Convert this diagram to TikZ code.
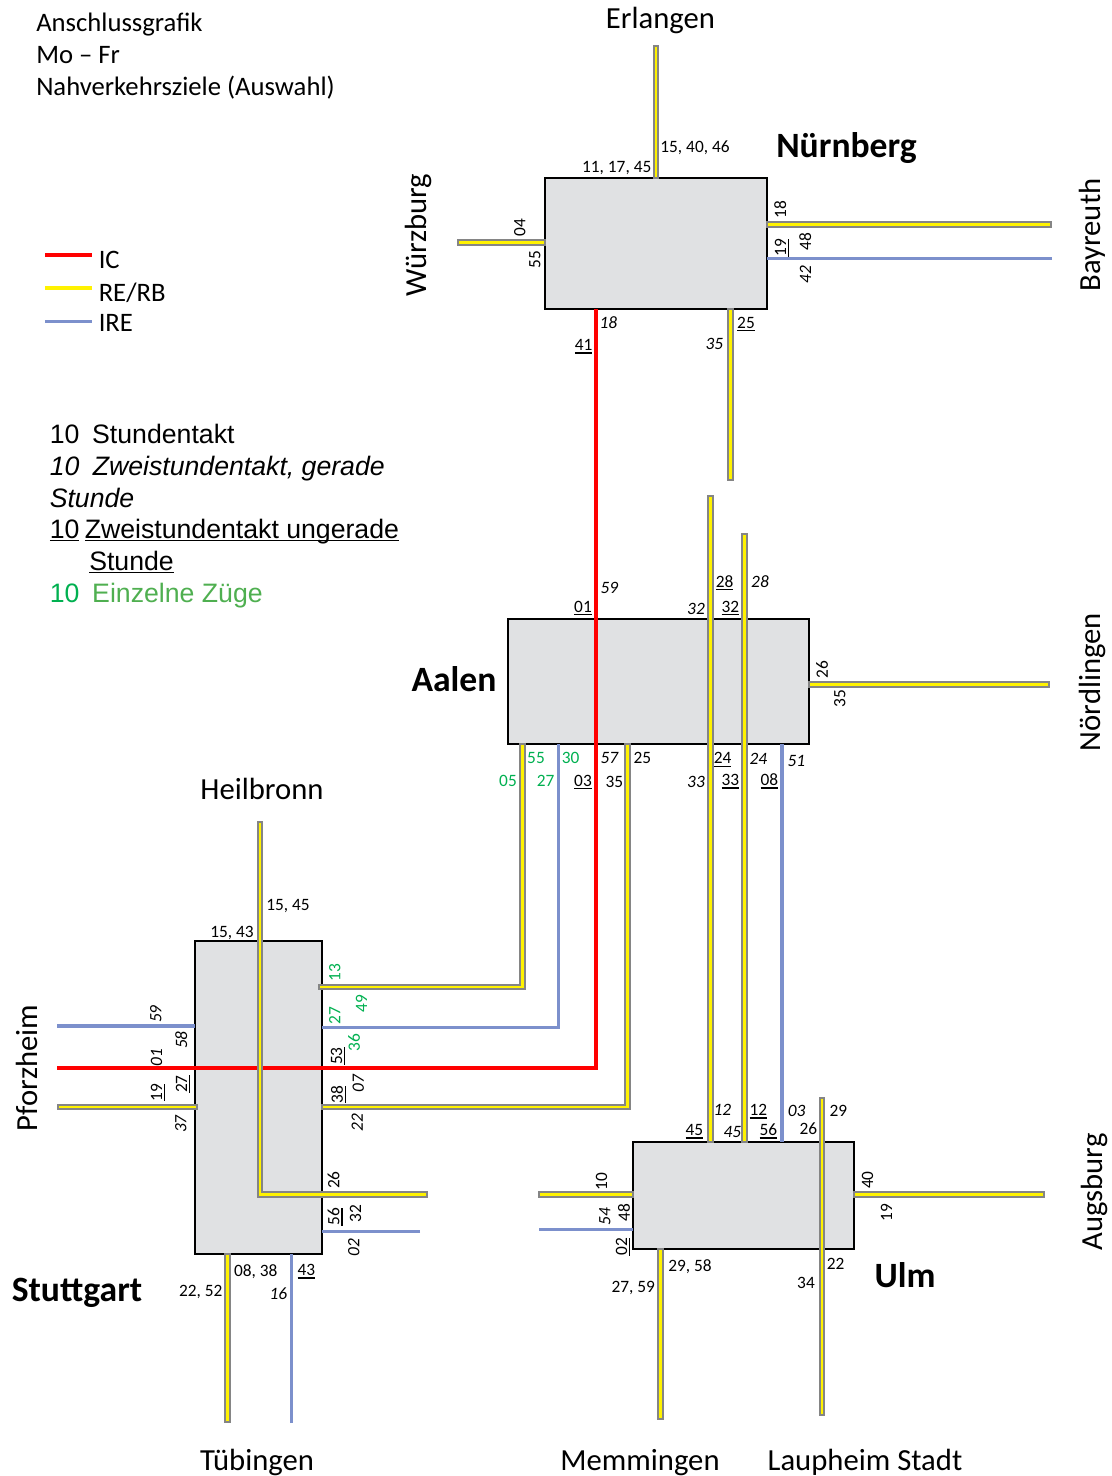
\documentclass[tikz,border=0pt]{standalone}
\usepackage{fontspec}
\usepackage{tikz}
\setmainfont{Carlito}
\newfontfamily\legendfont{Liberation Sans}
\definecolor{railgray}{HTML}{858585}
\definecolor{irecolor}{HTML}{7C90CC}
\definecolor{boxfill}{HTML}{E0E1E3}
\definecolor{singlegreen}{HTML}{00B050}
\definecolor{singletext}{HTML}{4FAF50}
\newcommand{\unum}[1]{\leavevmode\vtop{\hbox{\smash{#1}}\kern1.5pt\hrule height 0.9pt}}
\tikzset{
  station/.style={draw=black, fill=boxfill, line width=1.6pt, inner sep=0pt, outer sep=0pt},
  rerb/.style={draw=railgray, double=yellow, line width=1.5pt, double distance=1.9pt, line cap=rect},
  tobox/.style={shorten >=1.8pt},
  frombox/.style={shorten <=1.8pt},
  ireline/.style={draw=irecolor, line width=2.6pt},
  icline/.style={draw=red, line width=3pt},
  num/.style={inner sep=0pt, font=\fontsize{13}{15}\selectfont, text height=8.2pt, text depth=0pt},
  numit/.style={num, font=\fontsize{13}{15}\selectfont\itshape},
  vert/.style={rotate=90},
  single/.style={text=singlegreen},
  place/.style={inner sep=0pt, font=\fontsize{23}{27}\selectfont, text height=19.2pt, text depth=4.4pt},
  city/.style={inner sep=0pt, font=\fontsize{26.7}{30}\selectfont\bfseries, text height=22pt, text depth=5pt},
  header/.style={inner sep=0pt, anchor=base west, font=\fontsize{20}{24}\selectfont},
  legend/.style={inner sep=0pt, anchor=base west, font=\fontsize{20}{24}\selectfont\legendfont},
}

\begin{document}
\begin{tikzpicture}[x=0.75pt, y=-0.75pt]
        \useasboundingbox (0,0) rectangle (1112,1476);

        % Station boxes
        \node[station, minimum width=166pt, minimum height=98.7pt] (nuernberg) at (656, 243.5) {};
        \node[station, minimum width=225.5pt, minimum height=93.75pt] (aalen) at (658.35, 681.5) {};
        \node[station, minimum width=95pt, minimum height=234.75pt] (stuttgart) at (258.35, 1097.5) {};
        \node[station, minimum width=165.75pt, minimum height=80pt] (ulm) at (743.8, 1195.65) {};

        % Free ends of the lines
        \coordinate (erlangen_end) at (656, 48);
        \coordinate (wuerzburg_end) at (460, 242.7);
        \coordinate (bayreuth_re) at (1049, 224.3);
        \coordinate (bayreuth_ire) at (1052, 258.7);
        \coordinate (nb_south_end) at (730.7, 478);
        \coordinate (aalen_north_a) at (710.4, 498);
        \coordinate (aalen_north_b) at (744.3, 536);
        \coordinate (noerdlingen_end) at (1047, 684.3);
        \coordinate (heilbronn_end) at (260, 824);
        \coordinate (heilbronn_corner) at (260, 1194.3);
        \coordinate (st_east_end) at (425, 1194.3);
        \coordinate (st_east_ire) at (420, 1231.7);
        \coordinate (pforzheim_ire) at (57, 1026);
        \coordinate (pforzheim_ic) at (57, 1067.7);
        \coordinate (pforzheim_re) at (60, 1107);
        \coordinate (tuebingen_re) at (227.3, 1420);
        \coordinate (tuebingen_ire) at (291.7, 1423);
        \coordinate (ulm_top) at (822, 1100);
        \coordinate (laupheim_end) at (822, 1413);
        \coordinate (ulm_west_re) at (541, 1194.3);
        \coordinate (ulm_west_ire) at (539, 1229.3);
        \coordinate (augsburg_end) at (1042, 1194.3);
        \coordinate (memmingen_end) at (660.3, 1417);

        % Corners of the lines between Aalen and Stuttgart
        \coordinate (corner_a) at (522.7, 987);
        \coordinate (corner_b) at (558.3, 1027.7);
        \coordinate (corner_c) at (627.7, 1107);
        \coordinate (corner_ic) at (596, 1067.7);
        \coordinate (aalen_ulm) at (782, 900);

        % Lines at Nuernberg
        \draw[rerb, tobox] (erlangen_end) -- (erlangen_end |- nuernberg.north);
        \draw[rerb, tobox] (wuerzburg_end) -- (wuerzburg_end -| nuernberg.west);
        \draw[rerb, tobox] (bayreuth_re) -- (bayreuth_re -| nuernberg.east);
        \draw[ireline] (bayreuth_ire) -- (bayreuth_ire -| nuernberg.east);
        \draw[rerb, tobox] (nb_south_end) -- (nb_south_end |- nuernberg.south);

        % Lines at Aalen
        \draw[icline] (corner_ic |- nuernberg.south) -- (corner_ic) -- (pforzheim_ic);
        \draw[rerb, tobox] (aalen_north_a) -- (aalen_north_a |- ulm.north);
        \draw[rerb, tobox] (aalen_north_b) -- (aalen_north_b |- ulm.north);
        \draw[rerb, tobox] (noerdlingen_end) -- (noerdlingen_end -| aalen.east);
        \draw[rerb, frombox] (corner_a |- aalen.south) -- (corner_a) -- (corner_a -| stuttgart.east);
        \draw[ireline] (corner_b |- aalen.south) -- (corner_b) -- (corner_b -| stuttgart.east);
        \draw[rerb, frombox, tobox] (corner_c |- aalen.south) -- (corner_c) -- (corner_c -| stuttgart.east);
        \draw[ireline] (aalen_ulm |- aalen.south) -- (aalen_ulm |- ulm.north);

        % Lines at Stuttgart
        \draw[rerb] (heilbronn_end) -- (heilbronn_corner) -- (st_east_end);
        \draw[ireline] (st_east_ire) -- (st_east_ire -| stuttgart.east);
        \draw[ireline] (pforzheim_ire) -- (pforzheim_ire -| stuttgart.west);
        \draw[rerb] (pforzheim_re) -- (pforzheim_re -| stuttgart.west);
        \draw[rerb, tobox] (tuebingen_re) -- (tuebingen_re |- stuttgart.south);
        \draw[ireline] (tuebingen_ire) -- (tuebingen_ire |- stuttgart.south);

        % Lines at Ulm
        \draw[rerb] (ulm_top) -- (laupheim_end);
        \draw[rerb, tobox] (ulm_west_re) -- (ulm_west_re -| ulm.west);
        \draw[ireline] (ulm_west_ire) -- (ulm_west_ire -| ulm.west);
        \draw[rerb, tobox] (augsburg_end) -- (augsburg_end -| ulm.east);
        \draw[rerb, tobox] (memmingen_end) -- (memmingen_end |- ulm.south);

        % Header
        \node[header] (head_a) at (36, 32) {Anschlussgrafik};
        \node[header] (head_b) at (36, 64) {Mo -- Fr};
        \node[header] (head_c) at (36, 96) {Nahverkehrsziele (Auswahl)};

        % Line legend
        \coordinate (key_ic_a) at (45, 255);
        \coordinate (key_ic_b) at (92, 255);
        \coordinate (key_re_a) at (45, 288);
        \coordinate (key_re_b) at (92, 288);
        \coordinate (key_ire_a) at (45, 321.3);
        \coordinate (key_ire_b) at (92, 321.3);
        \draw[icline] (key_ic_a) -- (key_ic_b);
        \draw[draw=yellow, line width=2.6pt] (key_re_a) -- (key_re_b);
        \draw[ireline] (key_ire_a) -- (key_ire_b);
        \node[header] (key_ic) at (98.5, 268.5) {IC};
        \node[header] (key_re) at (98.5, 301) {RE/RB};
        \node[header] (key_ire) at (98.5, 331.5) {IRE};

        % Timing legend
        \node[legend] (tact_a) at (49.5, 443) {10\hspace{0.48em}Stundentakt};
        \node[legend] (tact_b) at (49.5, 475) {\itshape 10\hspace{0.5em}Zweistundentakt, gerade};
        \node[legend] (tact_c) at (49.5, 507) {\itshape Stunde};
        \node[legend] (tact_d) at (49.5, 538) {\unum{10}\hspace{0.2em}\unum{Zweistundentakt ungerade}};
        \node[legend] (tact_e) at (89, 570) {\unum{Stunde}};
        \node[legend, text=singletext] (tact_f) at (49.5, 602) {\textcolor{singlegreen}{10}\hspace{0.48em}Einzelne Züge};

        % Place names
        \node[place] (erlangen) at (660.5, 19) {Erlangen};
        \node[place, vert] (wuerzburg) at (417, 235) {Würzburg};
        \node[place, vert] (bayreuth) at (1091, 235) {Bayreuth};
        \node[place, vert] (noerdlingen) at (1091, 682) {Nördlingen};
        \node[place] (heilbronn) at (262, 790) {Heilbronn};
        \node[place, vert] (pforzheim) at (28, 1068) {Pforzheim};
        \node[place, vert] (augsburg) at (1093, 1192) {Augsburg};
        \node[place] (tuebingen) at (257, 1461) {Tübingen};
        \node[place] (memmingen) at (640, 1461) {Memmingen};
        \node[place] (laupheim) at (865, 1461) {Laupheim Stadt};
        \node[city] (nb_name) at (846.5, 146) {Nürnberg};
        \node[city] (aa_name) at (454, 680) {Aalen};
        \node[city] (st_name) at (77, 1290) {Stuttgart};
        \node[city] (ul_name) at (905, 1276) {Ulm};

        % Times at Nuernberg
        \node[num] (nb_a) at (695, 147) {15, 40, 46};
        \node[num] (nb_b) at (616.7, 167) {11, 17, 45};
        \node[num, vert] (nb_c) at (520, 227.7) {04};
        \node[num, vert] (nb_d) at (535, 260) {55};
        \node[num, vert] (nb_e) at (780.7, 209.3) {18};
        \node[num, vert] (nb_f) at (780.7, 248) {\unum{19}};
        \node[num, vert] (nb_g) at (805.7, 242) {48};
        \node[numit, vert] (nb_h) at (805.7, 274.3) {42};
        \node[numit] (nb_i) at (608.3, 323) {18};
        \node[num] (nb_j) at (583.7, 345) {\unum{41}};
        \node[numit] (nb_k) at (714.3, 344) {35};
        \node[num] (nb_l) at (746, 322.8) {\unum{25}};

        % Times at Aalen
        \node[numit] (aa_a) at (609.3, 588) {59};
        \node[num] (aa_b) at (583, 606.7) {\unum{01}};
        \node[numit] (aa_c) at (696, 609) {32};
        \node[num] (aa_d) at (730.3, 606.7) {\unum{32}};
        \node[num] (aa_e) at (724.7, 581.7) {\unum{28}};
        \node[numit] (aa_f) at (760, 581.7) {28};
        \node[num, vert] (aa_g) at (822.3, 669.3) {26};
        \node[num, vert] (aa_h) at (840, 698.3) {35};
        \node[num, single] (aa_i) at (536, 757.7) {55};
        \node[num, single] (aa_j) at (570.7, 757.7) {30};
        \node[numit] (aa_k) at (609.3, 757.7) {57};
        \node[num] (aa_l) at (642.3, 757.7) {25};
        \node[num, single] (aa_m) at (508, 780.7) {05};
        \node[num, single] (aa_n) at (545.7, 780.7) {27};
        \node[num] (aa_o) at (583, 780.7) {\unum{03}};
        \node[num] (aa_p) at (614.3, 781.7) {35};
        \node[num] (aa_q) at (722.7, 758.3) {\unum{24}};
        \node[numit] (aa_r) at (758.3, 759) {24};
        \node[numit] (aa_s) at (796.3, 760.7) {51};
        \node[numit] (aa_t) at (696, 782.3) {33};
        \node[num] (aa_u) at (730.3, 780) {\unum{33}};
        \node[num] (aa_v) at (769.3, 780) {\unum{08}};

        % Times at Stuttgart
        \node[num] (st_a) at (288, 905) {15, 45};
        \node[num] (st_b) at (232, 932) {15, 43};
        \node[num, vert, single] (st_c) at (335, 972.7) {13};
        \node[num, vert, single] (st_d) at (361.7, 1003.3) {49};
        \node[num, vert, single] (st_e) at (335, 1015.7) {27};
        \node[num, vert, single] (st_f) at (354.3, 1042.7) {36};
        \node[num, vert] (st_g) at (336.7, 1056) {\unum{53}};
        \node[numit, vert] (st_h) at (358.3, 1083.3) {07};
        \node[num, vert] (st_i) at (337.3, 1094.3) {\unum{38}};
        \node[numit, vert] (st_j) at (357.3, 1122.3) {22};
        \node[num, vert] (st_k) at (334, 1180) {26};
        \node[num, vert] (st_l) at (334, 1216.7) {\unum{56}};
        \node[num, vert] (st_m) at (355.7, 1213.3) {32};
        \node[numit, vert] (st_n) at (354, 1247.7) {02};
        \node[numit, vert] (st_o) at (156, 1014) {59};
        \node[numit, vert] (st_p) at (181.7, 1040) {58};
        \node[numit, vert] (st_q) at (156.7, 1057.3) {01};
        \node[num, vert] (st_r) at (181.7, 1084) {\unum{27}};
        \node[num, vert] (st_s) at (156.7, 1092.3) {\unum{19}};
        \node[numit, vert] (st_t) at (181, 1124) {37};
        \node[num] (st_u) at (255.7, 1270.7) {08, 38};
        \node[num] (st_v) at (200.7, 1290.7) {22, 52};
        \node[num] (st_w) at (306.3, 1270) {\unum{43}};
        \node[numit] (st_x) at (278.3, 1293.8) {16};

        % Times at Ulm
        \node[numit] (ul_a) at (722.3, 1110) {12};
        \node[num] (ul_b) at (758.3, 1110) {\unum{12}};
        \node[numit] (ul_c) at (796.7, 1110.7) {03};
        \node[num] (ul_d) at (838.3, 1110.7) {29};
        \node[num] (ul_e) at (694.3, 1130) {\unum{45}};
        \node[numit] (ul_f) at (732.3, 1132.3) {45};
        \node[num] (ul_g) at (768.3, 1130) {\unum{56}};
        \node[num] (ul_h) at (808.3, 1129) {26};
        \node[num, vert] (ul_i) at (601.7, 1181.7) {10};
        \node[numit, vert] (ul_j) at (605, 1216.7) {54};
        \node[num, vert] (ul_k) at (624.3, 1212.3) {48};
        \node[num, vert] (ul_l) at (621.7, 1246.7) {\unum{02}};
        \node[num, vert] (ul_m) at (867.7, 1180) {40};
        \node[num, vert] (ul_n) at (886.7, 1212.7) {19};
        \node[num] (ul_o) at (690, 1265.7) {29, 58};
        \node[num] (ul_p) at (633.3, 1286.7) {27, 59};
        \node[num] (ul_q) at (835.7, 1264) {22};
        \node[num] (ul_r) at (806, 1282.7) {34};
      \end{tikzpicture}
\end{document}
